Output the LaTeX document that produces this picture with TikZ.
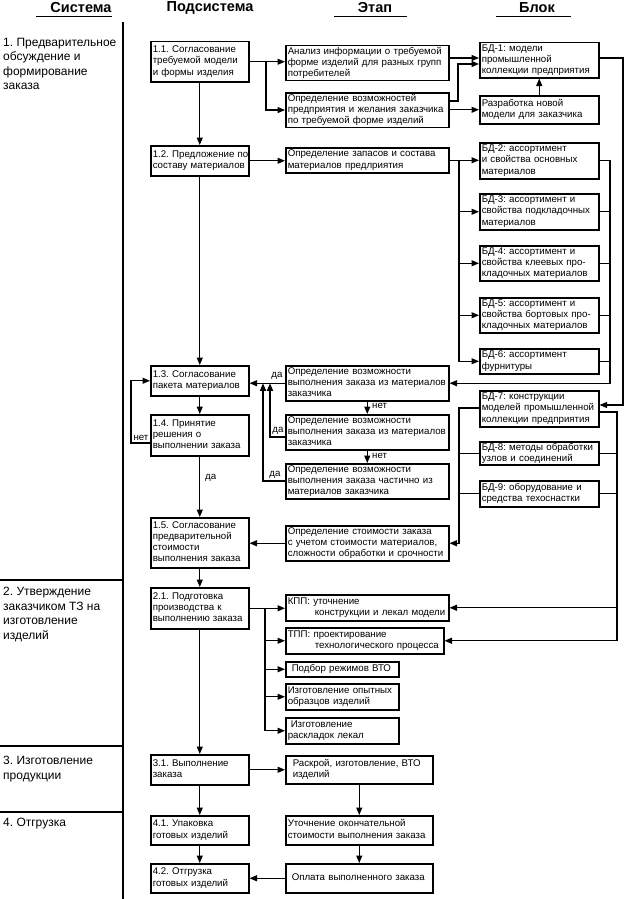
\documentclass[tikz,border=0pt]{standalone}
\usepackage{fontspec}
\setmainfont{Liberation Sans}
\usetikzlibrary{arrows.meta}
\frenchspacing
\newcommand\myboxfont{\fontsize{9.7}{11.2}\selectfont}
\newcommand\mybox[6]{\node[bx, text width=#4pt, minimum height=#5pt] (#1) at (#2,#3) {\begin{tabular}{@{}l@{}}#6\end{tabular}};}
\begin{document}
\begin{tikzpicture}[x=1pt,y=-1pt,
  bx/.style={draw, line width=1.5pt, inner xsep=2pt, inner ysep=0.5pt, anchor=north west, font=\myboxfont, align=left},
  arr/.style={line width=1.2pt, -{Triangle[length=7.5pt,width=6pt]}},
  ln/.style={line width=1.2pt},
  lbl/.style={font=\myboxfont, inner sep=0pt},
  hdr/.style={font=\fontsize{14.5}{16}\selectfont\bfseries, inner sep=0pt, anchor=base},
  sys/.style={font=\fontsize{12}{14.5}\selectfont, inner sep=0pt, anchor=north west, align=left}]
\useasboundingbox (0,0) rectangle (625,899);

% headers
\node[hdr] (hsys) at (81,13) {Система};
\node[hdr] (hsub) at (210,12) {Подсистема};
\node[hdr] (hst) at (375,13) {Этап};
\node[hdr] (hbl) at (537,13) {Блок};
\draw[ln] (36,16.5) -- (112,16.5);
\draw[ln] (334,16.5) -- (407,16.5);
\draw[ln] (496,16.5) -- (571,16.5);

% system column
\draw[ln] (123,22) -- (123,899);
\draw[ln] (0,580) -- (123,580);
\draw[ln] (0,746) -- (123,746);
\draw[ln] (0,812) -- (123,812);
\node[sys] (s1) at (3,38) {1. Предварительное\\обсуждение и\\формирование\\заказа};
\node[sys] (s2) at (3,587) {2. Утверждение\\заказчиком ТЗ на\\изготовление\\изделий};
\node[sys] (s3) at (3,756) {3. Изготовление\\продукции};
\node[sys] (s4) at (3,818) {4. Отгрузка};

% subsystem column
\mybox{n11}{150}{41}{94}{40}{1.1. Согласование\\требуемой модели\\и формы изделия}
\mybox{n12}{150}{145}{94}{30}{1.2. Предложение по\\составу материалов}
\mybox{n13}{150}{365}{94}{30}{1.3. Согласование\\пакета материалов}
\mybox{n14}{150}{414}{94}{41}{1.4. Принятие\\решения о\\выполнении заказа}
\mybox{n15}{150}{517}{94}{50}{1.5. Согласование\\предварительной\\стоимости\\выполнения заказа}
\mybox{n21}{150}{587}{94}{41}{2.1. Подготовка\\производства к\\выполнению заказа}
\mybox{n31}{150}{754}{94}{30}{3.1. Выполнение\\заказа}
\mybox{n41}{150}{815}{94}{29}{4.1. Упаковка\\готовых изделий}
\mybox{n42}{150}{863}{94}{29}{4.2. Отгрузка\\готовых изделий}

% stage column
\mybox{e1}{285}{45}{159}{34}{Анализ информации о требуемой\\форме изделий для разных групп\\потребителей}
\mybox{e2}{285}{92}{159}{33}{Определение возможностей\\предприятия и желания заказчика\\по требуемой форме изделий}
\mybox{e3}{285}{147}{159}{25}{Определение запасов и состава\\материалов предлриятия}
\mybox{e4}{285}{365}{159}{35}{Определение возможности\\выполнения заказа из материалов\\заказчика}
\mybox{e5}{285}{414}{159}{35}{Определение возможности\\выполнения заказа из материалов\\заказчика}
\mybox{e6}{285}{463}{159}{35}{Определение возможности\\выполнения заказа частично из\\материалов заказчика}
\mybox{e7}{285}{525}{159}{35}{Определение стоимости заказа\\с учетом стоимости материалов,\\сложности обработки и срочности}
\mybox{kpp}{285}{594}{159}{26}{КПП: уточнение\\\hspace*{27pt}конструкции и лекал модели}
\mybox{tpp}{285}{627}{154}{26}{ТПП: проектирование\\\hspace*{27pt}технологического процесса}
\mybox{vto}{285}{661}{109}{15}{\hspace*{4pt}Подбор режимов ВТО}
\mybox{obr}{285}{683}{109}{26}{Изготовление опытных\\образцов изделий}
\mybox{rask}{285}{717}{109}{26}{\hspace*{3pt}Изготовление\\раскладок лекал}
\mybox{e31}{285}{755}{143}{28}{\hspace*{5pt}Раскрой, изготовление, ВТО\\\hspace*{5pt}изделий}
\mybox{e41}{285}{815}{143}{29}{Уточнение окончательной\\стоимости выполнения заказа}
\mybox{e42}{285}{863}{143}{29}{\hspace*{4pt}Оплата выполненного заказа}

% block column
\mybox{bd1}{479}{42}{115}{35}{БД-1: модели\\промышленной\\коллекции предприятия}
\mybox{razr}{479}{95}{115}{28}{Разработка новой\\модели для заказчика}
\mybox{bd2}{479}{142}{115}{36}{БД-2: ассортимент\\и свойства основных\\материалов}
\mybox{bd3}{479}{193}{115}{36}{БД-3: ассортимент и\\свойства подкладочных\\материалов}
\mybox{bd4}{479}{245}{115}{35}{БД-4: ассортимент и\\свойства клеевых про-\\кладочных материалов}
\mybox{bd5}{479}{297}{115}{35}{БД-5: ассортимент и\\свойства бортовых про-\\кладочных материалов}
\mybox{bd6}{479}{348}{115}{25}{БД-6: ассортимент\\фурнитуры}
\mybox{bd7}{479}{390}{115}{36}{БД-7: конструкции\\моделей промышленной\\коллекции предприятия}
\mybox{bd8}{479}{441}{115}{22}{БД-8: методы обработки\\узлов и соединений}
\mybox{bd9}{479}{480}{115}{26}{БД-9: оборудование и\\средства техоснастки}

% connectors: part 1
\draw[arr] (n11.east) -- (n11.east -| e1.west);
\draw[arr] (n11.east -| 266,0) |- (e2.west);
\draw[arr] (e1.east |- 0,58) -- (bd1.west |- 0,58);
\draw[arr] (e2.east |- 0,101) -- (458,101) -- (458,64) -- (bd1.west |- 0,64);
\draw[arr] (e2.east |- razr.west) -- (razr.west);
\draw[arr] (razr.north) -- (bd1.south);
\draw[arr] (n11.south) -- (n12.north);
\draw[arr] (n12.east) -- (n12.east -| e3.west);
\draw[arr] (e3.east) -- (e3.east -| bd2.west);
\foreach \b in {bd3,bd4,bd5,bd6} \draw[arr] (e3.east -| 459,0) |- (\b.west);
\draw[arr] (bd2.east) -- (bd2.east -| 610,0) |- (e4.east);
\foreach \b in {bd3,bd4,bd5,bd6} \draw[ln] (\b.east) -- (\b.east -| 610,0);
\draw[arr] (bd1.east |- 0,58) -- (623,58) |- (bd7.east |- 0,405);
\draw[arr] (bd7.west |- 0,408) -- (459,408) |- (e7.east);
\draw[ln] (bd8.west) -- (bd8.west -| 459,0);
\draw[ln] (bd9.west) -- (bd9.west -| 459,0);
\draw[arr] (bd7.east |- 0,412) -- (617,412) |- (kpp.east);
\draw[arr] (kpp.east -| 617,0) |- (tpp.east);
\draw[ln] (bd8.east) -- (bd8.east -| 617,0);
\draw[ln] (bd9.east) -- (bd9.east -| 617,0);
\draw[arr] (e7.west) -- (e7.west -| n15.east);

% decision part
\draw[arr] (n12.south) -- (n13.north);
\draw[arr] (e4.west) -- (e4.west -| n13.east);
\node[lbl, anchor=south] (l1) at (277,380) {да};
\draw[arr] (e4.south) -- (e5.north);
\node[lbl, anchor=west] (l2) at (372,406) {нет};
\draw[arr] (e5.south) -- (e6.north);
\node[lbl, anchor=west] (l3) at (372,456) {нет};
\draw[arr] (e5.west |- 0,437) -| (e4.west -| 270,0);
\node[lbl, anchor=south] (l4) at (278,435) {да};
\draw[arr] (e6.west |- 0,481) -| (e4.west -| 263,0);
\node[lbl, anchor=south] (l5) at (275,479) {да};
\draw[arr] (n13.south) -- (n14.north);
\draw[arr] (n14.west |- 0,443) -- (131,443) |- (n13.west);
\node[lbl, anchor=south] (l6) at (141,441) {нет};
\draw[arr] (n14.south) -- (n15.north);
\node[lbl, anchor=west] (l7) at (205,478) {да};
\draw[arr] (n15.south) -- (n21.north);

% production
\draw[arr] (n21.east) -- (n21.east -| kpp.west);
\foreach \b in {tpp,vto,obr,rask} \draw[arr] (n21.east -| 265,0) |- (\b.west);
\draw[arr] (n21.south) -- (n31.north);
\draw[arr] (n31.east) -- (n31.east -| e31.west);
\draw[arr] (e31.south) -- (e41.north);
\draw[arr] (n31.south) -- (n41.north);
\draw[arr] (n41.south) -- (n42.north);
\draw[arr] (e41.south) -- (e42.north);
\draw[arr] (e42.west) -- (e42.west -| n42.east);
\end{tikzpicture}
\end{document}
